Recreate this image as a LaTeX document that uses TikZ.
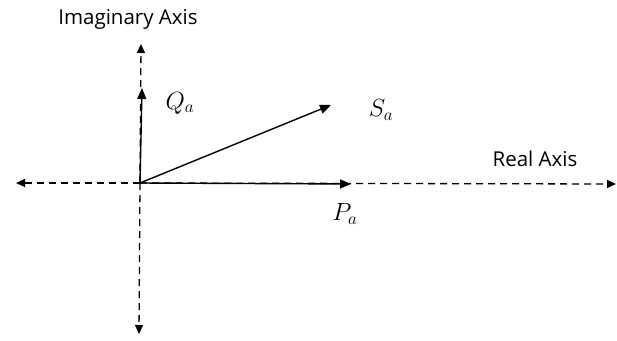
\documentclass[tikz,border=0pt]{standalone}
\usepackage{fontspec}
\setmainfont{Open Sans}
\usetikzlibrary{arrows.meta}
\begin{document}
\begin{tikzpicture}[x=1pt,y=-1pt,
  axis/.style={line width=1.3pt,dash pattern=on 7pt off 5pt,-{Triangle[length=9pt,width=8pt]}},
  vec/.style={line width=1.4pt,-{Triangle[length=11pt,width=9pt]}},
  lbl/.style={font=\fontsize{20.5}{24}\selectfont,inner sep=0pt},
  mlbl/.style={font=\fontsize{24}{26}\selectfont,inner sep=0pt}]
\useasboundingbox (0,0) rectangle (617,340);
\coordinate (O) at (140,183);
\coordinate (top) at (141,44);
\coordinate (bot) at (139,334);
\coordinate (left) at (16,183);
\coordinate (right) at (616,184);
\coordinate (Q) at (142,88);
\coordinate (S) at (331,105);
\coordinate (P) at (351,184);
\draw[axis] (O) -- (top);
\draw[axis] (O) -- (bot);
\draw[axis] (O) -- (left);
\draw[axis] (O) -- (right);
\draw[vec] (O) -- (Q);
\draw[vec] (O) -- (S);
\draw[vec] (O) -- (P);
\node[lbl] (im) at (128,19) {Imaginary Axis};
\node[lbl] (re) at (535,159) {Real Axis};
\node[mlbl] (ql) at (180,103) {$Q_a$};
\node[mlbl] (sl) at (381,110) {$S_a$};
\node[mlbl] (pl) at (345,214) {$P_a$};
\end{tikzpicture}
\end{document}
